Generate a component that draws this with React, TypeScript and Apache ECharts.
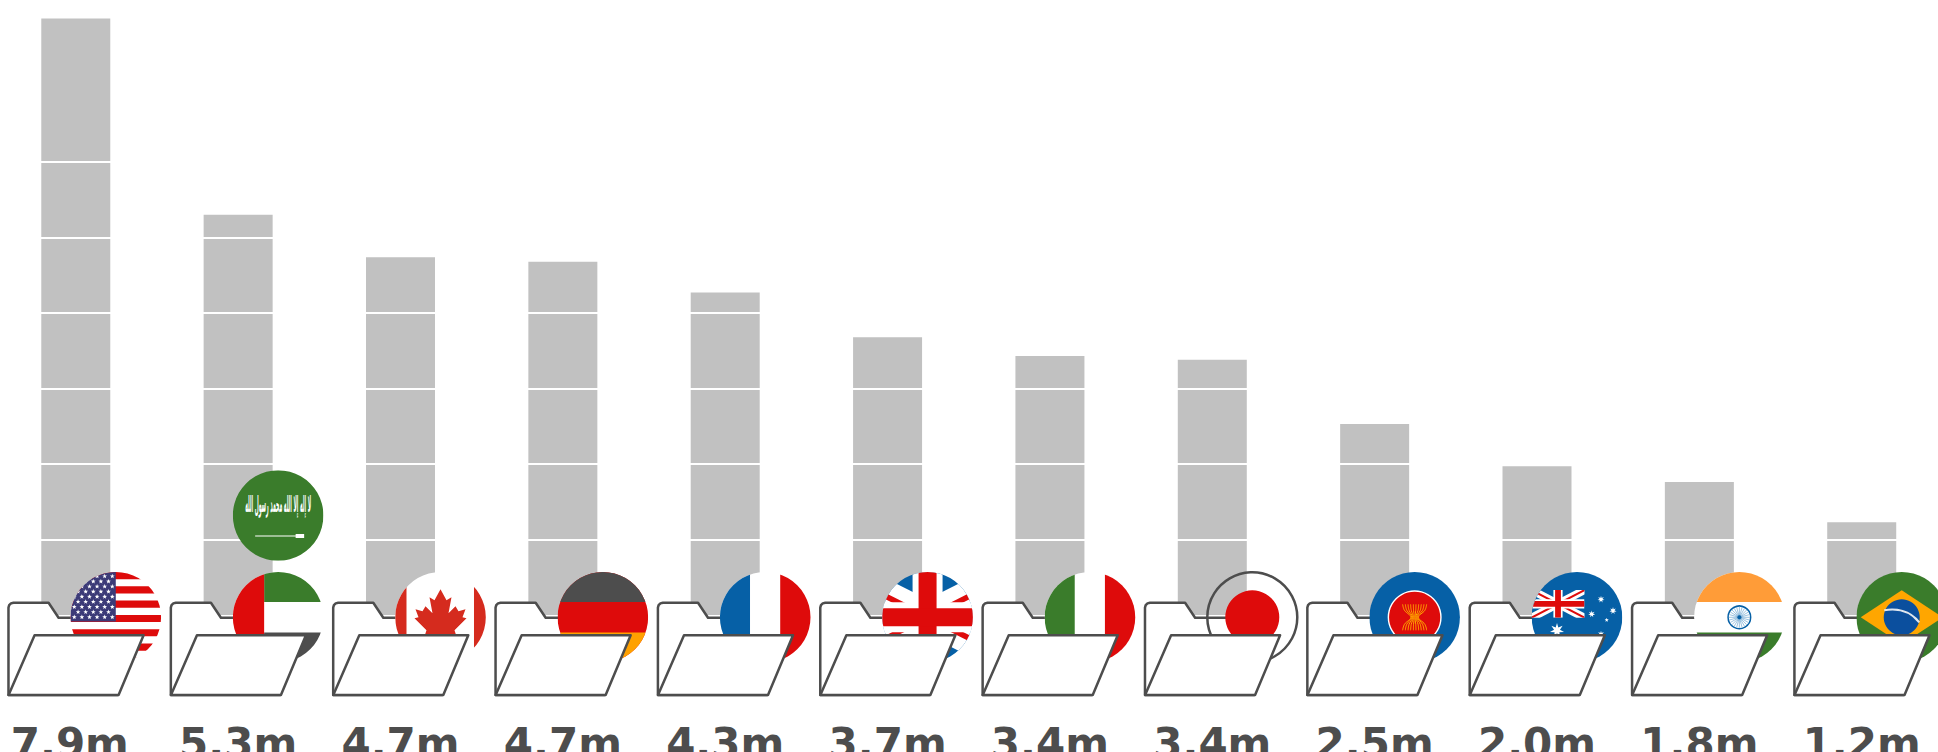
import React, { useEffect, useRef } from "react";
import * as echarts from "echarts";

const categories = ["United States", "UAE / Saudi Arabia", "Canada", "Germany", "France", "United Kingdom", "Italy", "Japan", "ASEAN", "Australia", "India", "Brazil"];
const values = [7.9, 5.3, 4.74, 4.68, 4.27, 3.68, 3.43, 3.38, 2.53, 1.97, 1.76, 1.23];
const valueLabels = ["7.9m", "5.3m", "4.7m", "4.7m", "4.3m", "3.7m", "3.4m", "3.4m", "2.5m", "2.0m", "1.8m", "1.2m"];
const flagKeys = ["us", "ae", "ca", "de", "fr", "uk", "it", "jp", "asean", "au", "in", "br"];
const gridValues = [1, 2, 3, 4, 5, 6];
const shahada = "لا إله إلا الله محمد رسول الله";

const RED = "#de0b0b";
const GREEN = "#3a7c2b";
const BLUE = "#0660a6";
const DARK = "#4d4d4d";
const R = 45.3;

const rect = (x: number, y: number, w: number, h: number, fill: string) => ({ type: "rect", shape: { x, y, width: w, height: h }, style: { fill } });
const circle = (cx: number, cy: number, r: number, fill: string, extra: any = {}) => ({ type: "circle", shape: { cx, cy, r }, style: { fill, ...extra } });
const line = (x1: number, y1: number, x2: number, y2: number, stroke: string, lineWidth: number) => ({ type: "line", shape: { x1, y1, x2, y2 }, style: { stroke, lineWidth, fill: "none" } });

function star(x: number, y: number, r: number, n = 5, fill = "#fff", inner = 0.42) {
  const points: number[][] = [];
  for (let i = 0; i < n * 2; i++) {
    const a = -Math.PI / 2 + (i * Math.PI) / n;
    const rr = i % 2 ? r * inner : r;
    points.push([x + rr * Math.cos(a), y + rr * Math.sin(a)]);
  }
  return { type: "polygon", shape: { points }, style: { fill } };
}

function jack(hw: number, hh: number, whiteDiag: number, redDiag: number, whiteCross: number, redCross: number, redCrossH: number) {
  return [
    rect(-hw, -hh, hw * 2, hh * 2, BLUE),
    line(-hw, -hh, hw, hh, "#fff", whiteDiag),
    line(-hw, hh, hw, -hh, "#fff", whiteDiag),
    line(-hw, -hh, hw, hh, RED, redDiag),
    line(-hw, hh, hw, -hh, RED, redDiag),
    rect(-whiteCross, -hh, whiteCross * 2, hh * 2, "#fff"),
    rect(-hw, -whiteCross, hw * 2, whiteCross * 2, "#fff"),
    rect(-redCross, -hh, redCross * 2, hh * 2, RED),
    rect(-hw, -redCrossH, hw * 2, redCrossH * 2, RED),
  ];
}

const vThree = (a: string, b: string, c: string) => [rect(-R, -R, R * 2, R * 2, b), rect(-R, -R, R - 15.2, R * 2, a), rect(15, -R, R, R * 2, c)];
const hThree = (a: string, b: string, c: string) => [rect(-R, -R, R * 2, R * 2, b), rect(-R, -R, R * 2, R - 15.2, a), rect(-R, 15.2, R * 2, R, c)];

function flagChildren(key: string): any[] {
  switch (key) {
    case "us": {
      const out: any[] = [rect(-R, -R, R * 2, R * 2, "#fff")];
      for (let i = 0; i < 13; i += 2) out.push(rect(-R, -R + i * 7.15, R * 2, 7.15, RED));
      out.push(rect(-R, -R, R, 49.6, "#3c3b78"));
      for (let row = 0; row < 9; row++) {
        const n = row % 2 ? 5 : 6;
        for (let c = 0; c < n; c++) {
          const sx = -R + (row % 2 ? 7.6 : 3.8) + c * 7.6;
          out.push(star(sx, -R + 4.3 + row * 5.1, 2.5));
        }
      }
      return out;
    }
    case "ae":
      return [rect(-R, -R, R * 2, R * 2, "#fff"), rect(-14, -R, 60, R - 15.2, GREEN), rect(-14, 15.2, 60, R, DARK), rect(-R, -R, R - 14, R * 2, RED)];
    case "ca":
      return [
        rect(-R, -R, R * 2, R * 2, "#fff"),
        rect(-R, -R, R - 34, R * 2, "#d52b1e"),
        rect(33.5, -R, R, R * 2, "#d52b1e"),
        {
          type: "polygon",
          shape: {
            points: [[0, -28], [6, -17], [11, -20], [8, -4], [15, -11], [18, -6], [25, -8], [22, 0], [26, 1], [14, 13], [16, 19], [1, 17], [1, 27], [-1, 27], [-1, 17], [-16, 19], [-14, 13], [-26, 1], [-22, 0], [-25, -8], [-18, -6], [-15, -11], [-8, -4], [-11, -20], [-6, -17]],
          },
          style: { fill: "#d52b1e" },
        },
      ];
    case "de":
      return hThree(DARK, RED, "#ffa100");
    case "fr":
      return vThree(BLUE, "#fff", RED);
    case "uk":
      return jack(90, 45.3, 32, 5.5, 15, 9, 9);
    case "it":
      return vThree(GREEN, "#fff", RED);
    case "jp":
      return [circle(0, 0, 27, RED)];
    case "asean": {
      const out: any[] = [rect(-R, -R, R * 2, R * 2, BLUE), circle(0, 0, 27, "#fff"), circle(0, 0, 25.6, RED)];
      for (const x of [-12, -9.3, -6.6, -4, -1.3, 1.3, 4, 6.6, 9.3, 12]) {
        out.push({ type: "polyline", shape: { points: [[x, -13], [x * 0.85, -7], [x * 0.32, 0], [x * 0.85, 7], [x, 13]], smooth: 0.4 }, style: { stroke: "#ffa800", lineWidth: 1, fill: "none" } });
      }
      return out;
    }
    case "au":
      return [
        rect(-R, -R, R * 2, R * 2, BLUE),
        {
          type: "group",
          x: -19,
          y: -13.4,
          clipPath: { type: "rect", shape: { x: -26.5, y: -13.8, width: 53, height: 27.6 } },
          children: jack(26.5, 13.8, 8, 2, 4.6, 2.9, 2.9),
        },
        star(-20, 13, 7.2, 7),
        star(24, -18, 3.6, 7),
        star(14.7, -3.3, 3.6, 7),
        star(36, -6.6, 3.6, 7),
        star(29.7, 2.7, 2.2, 5),
        star(24, 17, 3.6, 7),
      ];
    case "in": {
      const out: any[] = hThree("#ff9c38", "#fff", GREEN);
      out.push(circle(0, 0, 11.3, "#fff", { stroke: BLUE, lineWidth: 1.5 }));
      for (let i = 0; i < 24; i++) {
        const a = (i * Math.PI) / 12;
        out.push(line(0, 0, 10.5 * Math.cos(a), 10.5 * Math.sin(a), "#5b9acb", 0.6));
      }
      out.push(circle(0, 0, 2, BLUE));
      return out;
    }
    case "br":
      return [
        rect(-R, -R, R * 2, R * 2, GREEN),
        { type: "polygon", shape: { points: [[-41, 0], [0, -27], [41, 0], [0, 27]] }, style: { fill: "#ffa600" } },
        circle(0, 0, 18, "#0b4f9e"),
        { type: "bezierCurve", shape: { x1: -17.5, y1: -7, cpx1: -6, cpy1: -9, cpx2: 8, cpy2: -7, x2: 17.5, y2: 5 }, style: { stroke: "#dfe6ee", lineWidth: 2, fill: "none" } },
      ];
    case "sa":
      return [
        rect(-R, -R, R * 2, R * 2, GREEN),
        { type: "text", x: 0, y: -11.5, scaleX: 0.46, scaleY: 2.3, style: { text: shahada, x: 0, y: 0, align: "center", verticalAlign: "middle", fill: "#fff", font: 'bold 10px "DejaVu Sans"' } },
        line(-23, 20.5, 18, 20.5, "#fff", 1.2),
        rect(17.5, 18.5, 8.5, 4, "#fff"),
      ];
  }
  return [];
}

function flag(key: string, x: number, y: number) {
  return {
    type: "group",
    x,
    y,
    clipPath: { type: "circle", shape: { cx: 0, cy: 0, r: R } },
    children: flagChildren(key),
  };
}

const folderBack = [[-67.3, -7.3], [-66.6, -9.8], [-64.8, -11.6], [-62.3, -12.3], [-27.2, -12.3], [-17.2, 2.7], [42, 2.7], [42, 80], [-67.3, 80]];
const folderFront = [[-41.2, 20.3], [67.8, 20.3], [42.8, 80], [-67.2, 80]];
const labelFont = { color: DARK, fontFamily: "DejaVu Sans", fontWeight: "bold", fontSize: 42 };

export default function App() {
  const ref = useRef<HTMLDivElement>(null);
  useEffect(() => {
    const chart = echarts.init(ref.current!, undefined, { renderer: "svg" });
    chart.setOption({
      animation: false,
      backgroundColor: "#fff",
      grid: { left: -5.4, top: 11, width: 1948.3, height: 604, outerBoundsMode: "none" },
      xAxis: {
        type: "category",
        data: categories,
        axisLine: { show: false },
        axisTick: { show: false },
        axisLabel: {
          interval: 0,
          margin: 107,
          formatter: (_: string, i: number) => (i === 0 ? `{shifted|${valueLabels[i]}}` : valueLabels[i]),
          ...labelFont,
          verticalAlign: "top",
          rich: { shifted: { ...labelFont, padding: [0, 12, 0, 0] } },
        },
      },
      yAxis: { type: "value", min: 0, max: 8, show: false, splitLine: { show: false } },
      series: [
        {
          type: "bar",
          data: values,
          barWidth: 69,
          itemStyle: { color: "#c1c1c1" },
          z: 2,
          markLine: {
            silent: true,
            symbol: "none",
            z: 3,
            label: { show: false },
            lineStyle: { color: "#fff", width: 2, type: "solid" },
            data: gridValues.map((v) => ({ yAxis: v })),
          },
        },
        {
          type: "custom",
          silent: true,
          z: 10,
          data: categories.map((_, i) => [i, 0]),
          encode: { x: 0, y: 1 },
          renderItem: (_: any, api: any) => {
            const i = api.value(0);
            const [cx, y0] = api.coord([i, 0]);
            const key = flagKeys[i];
            const fx = cx + 40;
            const fy = y0 + 2.3;
            const back = { type: "polygon", x: cx, y: y0, shape: { points: folderBack }, style: { fill: "#fff", stroke: DARK, lineWidth: 2.5, lineJoin: "round" } };
            const front = { type: "polygon", x: cx, y: y0, shape: { points: folderFront }, style: { fill: "#fff", stroke: DARK, lineWidth: 2.5, lineJoin: "round" } };
            const children: any[] = [back, flag(key, fx, fy)];
            if (key === "jp") children.push(circle(fx, fy, R - 0.3, "none", { stroke: DARK, lineWidth: 2.5 }));
            if (key === "ae") children.push(flag("sa", fx, fy - 101.8));
            children.push(front);
            return { type: "group", children };
          },
        },
      ],
    });
    return () => chart.dispose();
  }, []);
  return <div ref={ref} style={{ position: "absolute", left: 0, top: 0, width: 1938, height: 752, overflow: "hidden" }} />;
}
